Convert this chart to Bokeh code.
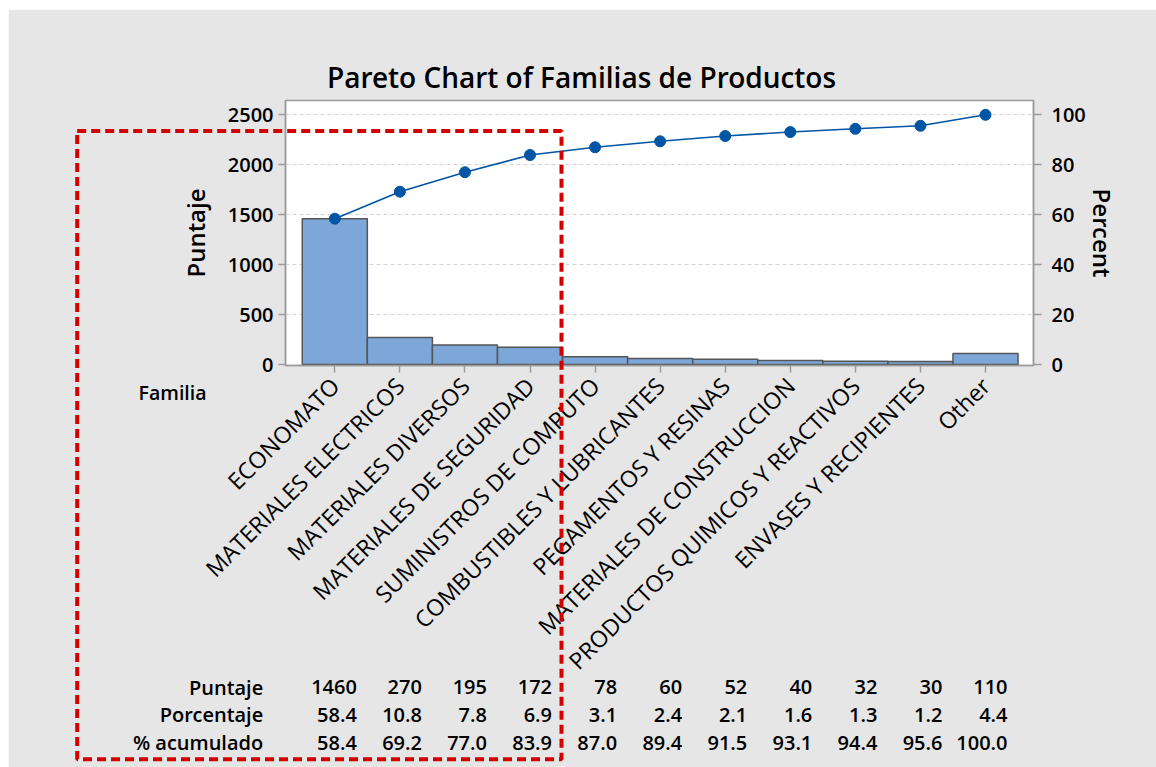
import math
from bokeh.plotting import figure
from bokeh.models import Range1d, LinearAxis, FixedTicker, GridBox, Spacer
from bokeh.layouts import column, row
from bokeh.core.properties import value
from bokeh.embed import file_html
from bokeh.resources import INLINE

# ---------------- data ----------------
categories = ["ECONOMATO", "MATERIALES ELECTRICOS", "MATERIALES DIVERSOS",
              "MATERIALES DE SEGURIDAD", "SUMINISTROS DE COMPUTO",
              "COMBUSTIBLES Y LUBRICANTES", "PEGAMENTOS Y RESINAS",
              "MATERIALES DE CONSTRUCCION", "PRODUCTOS QUIMICOS Y REACTIVOS",
              "ENVASES Y RECIPIENTES", "Other"]
puntaje = [1460, 270, 195, 172, 78, 60, 52, 40, 32, 30, 110]
porcentaje = [58.4, 10.8, 7.8, 6.9, 3.1, 2.4, 2.1, 1.6, 1.3, 1.2, 4.4]
acumulado = [58.4, 69.2, 77.0, 83.9, 87.0, 89.4, 91.5, 93.1, 94.4, 95.6, 100.0]
row_names = ["Puntaje", "Porcentaje", "% acumulado"]
left_ticks = [0, 500, 1000, 1500, 2000, 2500]
right_ticks = [0, 20, 40, 60, 80, 100]
title_text = "Pareto Chart of Familias de Productos"
x_title = "Familia"

# ---------------- layout constants (page pixels) ----------------
OX, OY = 8, 9                      # white page strip left / top
W, H = 1156 - OX, 767 - OY         # figure size
FL, FR, FT, FB = 285, 1033, 100, 365   # plot frame edges (page px)
X0, X1 = -0.7577, 10.7377          # x data range across frame
Y0, Y1 = -10.0, 2643.2             # left axis data range
PCT = 25.0                          # 2500 <-> 100 %
SX = (X1 - X0) / (FR - FL)          # x data units per pixel

FONT = "Open Sans"
FONT_SB = "Open Sans SemiBold"
BG = "#e6e6e6"
AX = "#9a9a9a"
RED = "#d40000"

# ---------------- main chart ----------------
p = figure(width=W, height=H, output_backend="svg", toolbar_location=None,
           x_range=Range1d(X0, X1), y_range=Range1d(Y0, Y1), tools="",
           min_border_left=FL - OX, min_border_right=OX + W - FR,
           min_border_top=FT - OY, min_border_bottom=OY + H - FB)
p.frame_align = False
p.extra_y_ranges = {"pct": Range1d(Y0 / PCT, Y1 / PCT)}
p.background_fill_color = "white"
p.border_fill_color = BG
p.outline_line_color = AX
p.outline_line_width = 1.5

xs = list(range(len(categories)))
p.vbar(x=xs, top=puntaje, bottom=0, width=1.0, fill_color="#7da7d9",
       line_color="#555555", line_width=1.5)
p.line(x=xs, y=acumulado, y_range_name="pct", line_color="#0055a5", line_width=1.6)
p.scatter(x=xs, y=acumulado, y_range_name="pct", size=11, fill_color="#0055a5",
          line_color="#0055a5")

p.xgrid.visible = False
p.ygrid.ticker = FixedTicker(ticks=left_ticks[1:])
p.ygrid.grid_line_color = "#d4d4d4"
p.ygrid.grid_line_dash = "4 3"


def style_axis(a, label_font=FONT_SB, label_size="20px"):
    a.major_label_text_font = label_font
    a.major_label_text_font_size = label_size
    a.major_label_text_color = "black"
    a.axis_label_text_font = FONT_SB
    a.axis_label_text_font_style = "normal"
    a.axis_label_text_font_size = "24px"
    a.axis_label_text_color = "black"
    a.axis_line_color = AX
    a.axis_line_width = 1.5
    a.major_tick_line_color = AX
    a.major_tick_line_width = 1.5
    a.major_tick_in = 0
    a.major_tick_out = 7
    a.minor_tick_line_color = None


ya = p.yaxis[0]
style_axis(ya)
ya.ticker = FixedTicker(ticks=left_ticks)
ya.axis_label = "Puntaje"
ya.axis_label_standoff = 13
ya.major_label_standoff = 5

ra = LinearAxis(y_range_name="pct", ticker=FixedTicker(ticks=right_ticks),
                axis_label="Percent")
style_axis(ra)
ra.major_tick_out = 8
ra.major_label_standoff = 10
ra.axis_label_standoff = -3
p.add_layout(ra, "right")

xa = p.xaxis[0]
style_axis(xa, FONT, "23px")
xa.ticker = FixedTicker(ticks=xs)
xa.major_label_overrides = {i: c for i, c in enumerate(categories)}
xa.major_label_orientation = math.pi / 4
xa.major_label_standoff = 9

# ---------------- overlay: title, table, highlight box ----------------
# same x scale as the chart (category units), y in page pixels (downwards)
ov = figure(width=W, height=H, output_backend="svg", toolbar_location=None,
            x_range=Range1d(X0 + (OX - FL) * SX, X0 + (OX + W - FL) * SX),
            y_range=Range1d(OY + H, OY), tools="", min_border=0,
            x_axis_location=None, y_axis_location=None)
ov.frame_align = False
ov.background_fill_color = None
ov.border_fill_color = None
ov.outline_line_color = None
ov.grid.visible = False


def px(xpix):
    return X0 + (xpix - FL) * SX


ov.text(x=[px(581)], y=[76.4], text=[title_text], text_align="center",
        text_baseline="alphabetic", text_font=value(FONT_SB),
        text_font_size="28px", text_color="black")
ov.text(x=[px(206)], y=[392.3], text=[x_title], text_align="right",
        text_baseline="alphabetic", text_font=value(FONT_SB),
        text_font_size="19.5px", text_color="black")

row_base = [686.7, 714.3, 742.3]
rows = [[str(v) for v in puntaje],
        ["%.1f" % v for v in porcentaje],
        ["%.1f" % v for v in acumulado]]
ov.text(x=[px(262.7)] * 3, y=row_base, text=row_names, text_align="right",
        text_baseline="alphabetic", text_font=value(FONT_SB), text_font_size="20px",
        text_color="black")
tx, ty, tt = [], [], []
for r in range(3):
    for i in xs:
        tx.append(i)
        ty.append(row_base[r])
        tt.append(rows[r][i])
ov.text(x=tx, y=ty, text=tt, x_offset=22, text_align="right",
        text_baseline="alphabetic", text_font=value(FONT_SB), text_font_size="20px",
        text_color="black")

# red dashed highlight rectangle
ov.quad(left=[px(76.7)], right=[px(561)], top=[130.5], bottom=[758.7],
        fill_color=None, line_color=RED, line_width=4, line_dash="9 5")

stack = GridBox(children=[(p, 0, 0), (ov, 0, 0)])
page = column(Spacer(height=OY), row(Spacer(width=OX), stack))

open("out.html", "w").write(file_html(page, INLINE))
